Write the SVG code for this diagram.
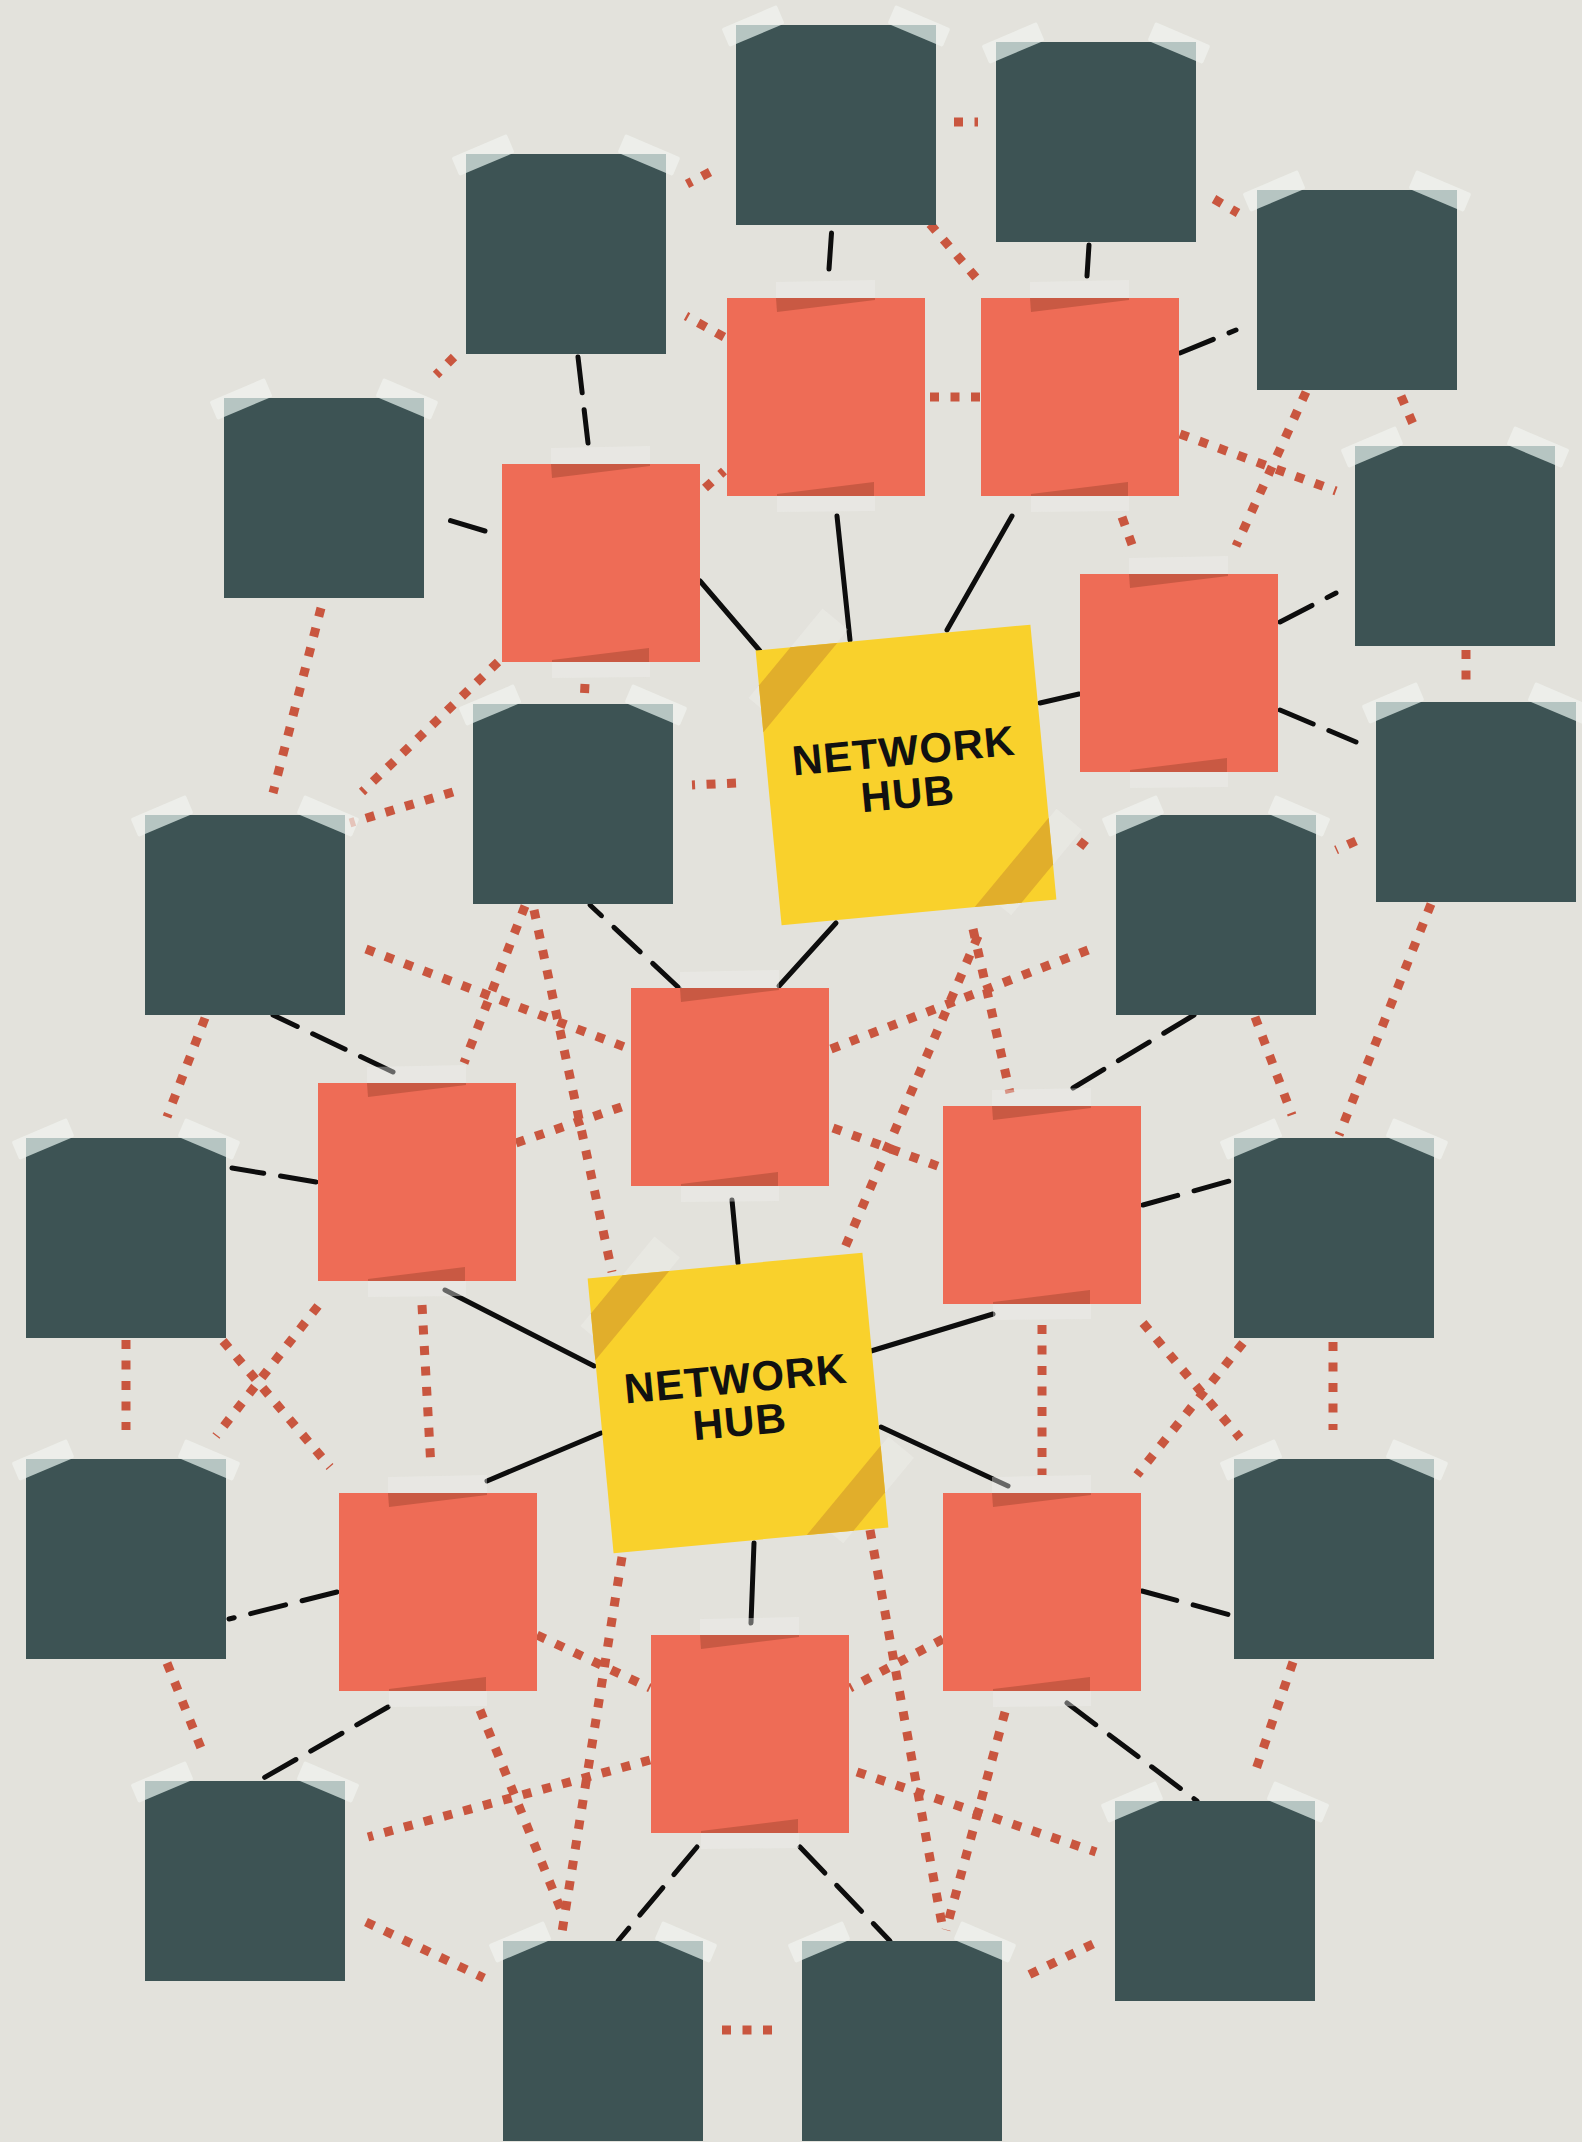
<svg xmlns="http://www.w3.org/2000/svg" xmlns:xlink="http://www.w3.org/1999/xlink" width="1582" height="2142" viewBox="0 0 1582 2142">
<style>
.bg{fill:#e3e2dc}
.s{stroke:#0d0d0d;stroke-width:5;stroke-linecap:round;fill:none}
.d{stroke:#0d0d0d;stroke-width:5;stroke-linecap:round;stroke-dasharray:36 17;fill:none}
.p{stroke:#c9563f;stroke-width:9;stroke-dasharray:9 11.5;fill:none}
.dk{fill:#3d5354}
.dt{fill:#f1f3f0;opacity:.7}
.dc{fill:#b6c5c2}
.or{fill:#ee6c56}
.os{fill:#c95943}
.ot{fill:#f0f1ed;opacity:.4}
.hy{fill:#f9d12c}
.hb{fill:#e1ae2b}
.ht{fill:#f4f5f1;opacity:.3}
.lbl{font-family:"Liberation Sans",Arial,sans-serif;font-weight:700;font-size:42px;fill:#111;text-anchor:middle;letter-spacing:1px}
</style>
<defs>
<g id="dkn">
<rect class="dt" x="-30" y="-10" width="60" height="20" rx="2" transform="translate(17,1) rotate(-23)"/>
<rect class="dt" x="-30" y="-10" width="60" height="20" rx="2" transform="translate(183,1) rotate(23)"/>
<rect class="dk" width="200" height="200"/>
<polygon class="dc" points="0,0 45,0 0,19"/>
<polygon class="dc" points="200,0 155,0 200,19"/>
</g>
<g id="orn">
<polygon class="ot" points="49,-16 148,-18 148,2 49,14"/>
<polygon class="ot" points="50,196 148,184 148,213 50,214"/>
<rect class="or" width="198" height="198"/>
<polygon class="os" points="49,0 148,0 148,2 50,14"/>
<polygon class="os" points="50,198 50,196 147,184 147,198"/>
</g>
<g id="hubn">
<rect class="ht" x="-41" y="24.7" width="116" height="33" transform="translate(-138,-138) rotate(-45)"/>
<rect class="ht" x="-70" y="24.7" width="111" height="33" transform="translate(138,138) rotate(135)"/>
<rect class="hy" x="-138" y="-138" width="276" height="276"/>
<polygon class="hb" points="-103,-138 -56,-138 -138,-56 -138,-103"/>
<polygon class="hb" points="103,138 56,138 138,56 138,103"/>
</g>
</defs>
<rect class="bg" width="1582" height="2142"/>
<g id="connectors">
<g id="solid">
<line class="s" x1="700" y1="581" x2="760" y2="651"/>
<line class="s" x1="837" y1="516" x2="850" y2="640"/>
<line class="s" x1="1012" y1="516" x2="947" y2="630"/>
<line class="s" x1="1040" y1="703" x2="1079" y2="694"/>
<line class="s" x1="836" y1="923" x2="779" y2="986"/>
<line class="s" x1="732" y1="1200" x2="738" y2="1263"/>
<line class="s" x1="445" y1="1290" x2="594" y2="1366"/>
<line class="s" x1="871" y1="1351" x2="993" y2="1314"/>
<line class="s" x1="487" y1="1481" x2="601" y2="1433"/>
<line class="s" x1="881" y1="1427" x2="1008" y2="1486"/>
<line class="s" x1="754" y1="1543" x2="751" y2="1623"/>
</g>
<g id="dashed">
<line class="d" x1="829" y1="269" x2="832" y2="226"/>
<line class="d" x1="1087" y1="276" x2="1089" y2="245"/>
<line class="d" x1="1180" y1="353" x2="1236" y2="330"/>
<line class="d" x1="578" y1="357" x2="588" y2="443"/>
<line class="d" x1="485" y1="531" x2="445" y2="519"/>
<line class="d" x1="1280" y1="622" x2="1336" y2="593"/>
<line class="d" x1="1280" y1="710" x2="1356" y2="742"/>
<line class="d" x1="679" y1="988" x2="590" y2="905"/>
<line class="d" x1="393" y1="1072" x2="273" y2="1015"/>
<line class="d" x1="316" y1="1182" x2="232" y2="1168"/>
<line class="d" x1="1073" y1="1088" x2="1194" y2="1015"/>
<line class="d" x1="1143" y1="1205" x2="1233" y2="1180"/>
<line class="d" x1="337" y1="1592" x2="229" y2="1619"/>
<line class="d" x1="388" y1="1707" x2="260" y2="1780"/>
<line class="d" x1="1142" y1="1591" x2="1234" y2="1616"/>
<line class="d" x1="1067" y1="1703" x2="1197" y2="1801"/>
<line class="d" x1="697" y1="1847" x2="618" y2="1941"/>
<line class="d" x1="800" y1="1847" x2="890" y2="1941"/>
</g>
<g id="dotted">
<line class="p" x1="954" y1="122" x2="978" y2="122"/>
<line class="p" x1="710" y1="172" x2="687" y2="184"/>
<line class="p" x1="930" y1="224" x2="978" y2="280"/>
<line class="p" x1="724" y1="337" x2="686" y2="316"/>
<line class="p" x1="930" y1="397" x2="981" y2="397"/>
<line class="p" x1="1214" y1="199" x2="1238" y2="213"/>
<line class="p" x1="454" y1="357" x2="436" y2="375"/>
<line class="p" x1="705" y1="488" x2="724" y2="471"/>
<line class="p" x1="1180" y1="434" x2="1336" y2="491"/>
<line class="p" x1="1401" y1="396" x2="1413" y2="424"/>
<line class="p" x1="1306" y1="392" x2="1236" y2="546"/>
<line class="p" x1="1122" y1="517" x2="1135" y2="553"/>
<line class="p" x1="1466" y1="650" x2="1466" y2="680"/>
<line class="p" x1="585" y1="684" x2="584" y2="704"/>
<line class="p" x1="498" y1="662" x2="362" y2="792"/>
<line class="p" x1="321" y1="608" x2="273" y2="793"/>
<line class="p" x1="453" y1="792" x2="350" y2="823"/>
<line class="p" x1="736" y1="783" x2="692" y2="785"/>
<line class="p" x1="1079" y1="841" x2="1093" y2="852"/>
<line class="p" x1="1356" y1="841" x2="1336" y2="850"/>
<line class="p" x1="1431" y1="904" x2="1339" y2="1135"/>
<line class="p" x1="205" y1="1018" x2="167" y2="1117"/>
<line class="p" x1="366" y1="949" x2="630" y2="1049"/>
<line class="p" x1="525" y1="906" x2="464" y2="1063"/>
<line class="p" x1="534" y1="910" x2="612" y2="1272"/>
<line class="p" x1="516" y1="1143" x2="630" y2="1104"/>
<line class="p" x1="831" y1="1049" x2="1096" y2="947"/>
<line class="p" x1="833" y1="1128" x2="943" y2="1168"/>
<line class="p" x1="1255" y1="1017" x2="1292" y2="1115"/>
<line class="p" x1="973" y1="929" x2="1010" y2="1093"/>
<line class="p" x1="978" y1="936" x2="843" y2="1252"/>
<line class="p" x1="126" y1="1340" x2="126" y2="1430"/>
<line class="p" x1="223" y1="1341" x2="330" y2="1467"/>
<line class="p" x1="318" y1="1306" x2="216" y2="1436"/>
<line class="p" x1="422" y1="1305" x2="431" y2="1468"/>
<line class="p" x1="1042" y1="1325" x2="1042" y2="1475"/>
<line class="p" x1="1143" y1="1323" x2="1240" y2="1438"/>
<line class="p" x1="1243" y1="1343" x2="1137" y2="1475"/>
<line class="p" x1="1333" y1="1342" x2="1333" y2="1430"/>
<line class="p" x1="167" y1="1663" x2="205" y2="1758"/>
<line class="p" x1="1293" y1="1662" x2="1253" y2="1778"/>
<line class="p" x1="537" y1="1635" x2="650" y2="1688"/>
<line class="p" x1="943" y1="1639" x2="850" y2="1688"/>
<line class="p" x1="622" y1="1557" x2="562" y2="1932"/>
<line class="p" x1="870" y1="1530" x2="943" y2="1930"/>
<line class="p" x1="480" y1="1710" x2="563" y2="1915"/>
<line class="p" x1="1005" y1="1712" x2="946" y2="1930"/>
<line class="p" x1="650" y1="1760" x2="368" y2="1837"/>
<line class="p" x1="857" y1="1772" x2="1096" y2="1852"/>
<line class="p" x1="366" y1="1922" x2="484" y2="1978"/>
<line class="p" x1="1093" y1="1944" x2="1020" y2="1979"/>
<line class="p" x1="722" y1="2030" x2="782" y2="2030"/>
</g>
</g>
<g id="D1"><use xlink:href="#dkn" x="736" y="25"/></g>
<g id="D2"><use xlink:href="#dkn" x="996" y="42"/></g>
<g id="D3"><use xlink:href="#dkn" x="466" y="154"/></g>
<g id="D4"><use xlink:href="#dkn" x="1257" y="190"/></g>
<g id="D5"><use xlink:href="#dkn" x="224" y="398"/></g>
<g id="D6"><use xlink:href="#dkn" x="1355" y="446"/></g>
<g id="D7"><use xlink:href="#dkn" x="473" y="704"/></g>
<g id="D8"><use xlink:href="#dkn" x="1376" y="702"/></g>
<g id="D9"><use xlink:href="#dkn" x="145" y="815"/></g>
<g id="D10"><use xlink:href="#dkn" x="1116" y="815"/></g>
<g id="D11"><use xlink:href="#dkn" x="26" y="1138"/></g>
<g id="D12"><use xlink:href="#dkn" x="1234" y="1138"/></g>
<g id="D13"><use xlink:href="#dkn" x="26" y="1459"/></g>
<g id="D14"><use xlink:href="#dkn" x="1234" y="1459"/></g>
<g id="D15"><use xlink:href="#dkn" x="145" y="1781"/></g>
<g id="D16"><use xlink:href="#dkn" x="1115" y="1801"/></g>
<g id="D17"><use xlink:href="#dkn" x="503" y="1941"/></g>
<g id="D18"><use xlink:href="#dkn" x="802" y="1941"/></g>
<g id="O1"><use xlink:href="#orn" x="727" y="298"/></g>
<g id="O2"><use xlink:href="#orn" x="981" y="298"/></g>
<g id="O3"><use xlink:href="#orn" x="502" y="464"/></g>
<g id="O4"><use xlink:href="#orn" x="1080" y="574"/></g>
<g id="O5"><use xlink:href="#orn" x="631" y="988"/></g>
<g id="O6"><use xlink:href="#orn" x="318" y="1083"/></g>
<g id="O7"><use xlink:href="#orn" x="943" y="1106"/></g>
<g id="O8"><use xlink:href="#orn" x="339" y="1493"/></g>
<g id="O9"><use xlink:href="#orn" x="943" y="1493"/></g>
<g id="O10"><use xlink:href="#orn" x="651" y="1635"/></g>
<g id="H1" transform="translate(906,775) rotate(-5.4)">
<use xlink:href="#hubn"/>
<text class="lbl" x="0" y="-10">NETWORK</text>
<text class="lbl" x="0" y="33">HUB</text>
</g>
<g id="H2" transform="translate(738,1403) rotate(-5.4)">
<use xlink:href="#hubn"/>
<text class="lbl" x="0" y="-10">NETWORK</text>
<text class="lbl" x="0" y="33">HUB</text>
</g>
</svg>
